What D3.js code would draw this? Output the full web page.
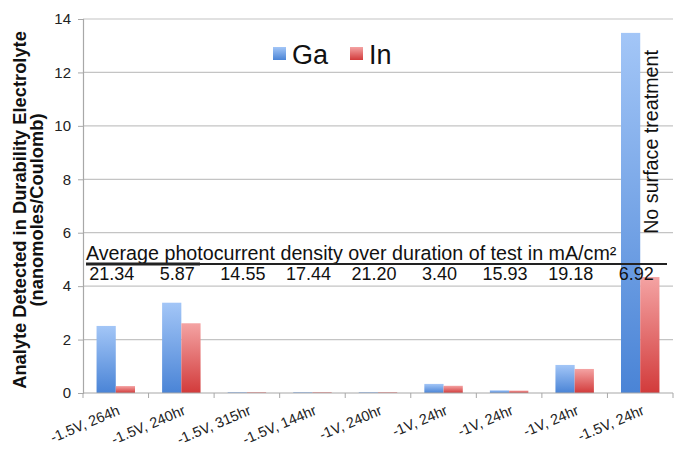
<!DOCTYPE html>
<html><head><meta charset="utf-8">
<script src="https://cdn.jsdelivr.net/npm/d3@7"></script>
<style>body{margin:0;background:#fff}svg{display:block;font-family:Arial,"Liberation Sans",sans-serif}</style>
</head><body><svg id="c" width="675" height="456"></svg>
<script>
const categories = ["-1.5V, 264h","-1.5V, 240hr","-1.5V, 315hr","-1.5V, 144hr","-1V, 240hr","-1V, 24hr","-1V, 24hr","-1V, 24hr","-1.5V, 24hr"];
const seriesNames = ["Ga","In"];
const gaValues = [2.51, 3.38, 0.03, 0.03, 0.03, 0.34, 0.10, 1.05, 13.48];
const inValues = [0.26, 2.61, 0.03, 0.03, 0.03, 0.27, 0.09, 0.90, 4.34];
const photocurrent = ["21.34","5.87","14.55","17.44","21.20","3.40","15.93","19.18","6.92"];
const yTicks = [0,2,4,6,8,10,12,14];

const svg = d3.select("#c");
const m = {l:83, r:673, t:19, b:393};
const x0 = d3.scaleBand().domain(d3.range(categories.length)).range([m.l, m.r]).paddingInner(0).paddingOuter(0);
const x1 = d3.scaleBand().domain(seriesNames).range([0, x0.bandwidth()]).paddingOuter(0.705).paddingInner(0);
const y = d3.scaleLinear().domain([0,14]).range([m.b, m.t]);

const defs = svg.append("defs");
function grad(id, top, bot){
  const g = defs.append("linearGradient").attr("id",id).attr("x1",0).attr("y1",0).attr("x2",0).attr("y2",1);
  g.append("stop").attr("offset","0%").attr("stop-color",top);
  g.append("stop").attr("offset","100%").attr("stop-color",bot);
}
grad("gGa","#a3c6f7","#4a84d6");
grad("gIn","#f4a3a3","#d23b3b");
const fills = {Ga:"url(#gGa)", In:"url(#gIn)"};

// gridlines
svg.append("g").selectAll("line").data(yTicks.filter(d=>d>0)).join("line")
  .attr("x1",m.l).attr("x2",m.r).attr("y1",d=>y(d)).attr("y2",d=>y(d))
  .attr("stroke","#c4c4c4").attr("stroke-width",1.2);

// y axis
const ya = svg.append("g").attr("transform",`translate(${m.l},0)`)
  .call(d3.axisLeft(y).tickValues(yTicks).tickSize(5).tickPadding(7).tickFormat(d3.format("d")));
ya.select(".domain").attr("stroke","#a8a8a8").attr("stroke-width",1.2);
ya.selectAll(".tick line").attr("stroke","#a8a8a8");
ya.selectAll("text").attr("font-size",15).attr("fill","#222").attr("font-family","Arial,'Liberation Sans',sans-serif");

// bars
const rows = categories.map((c,i)=>({i, vals:[{k:"Ga",v:gaValues[i]},{k:"In",v:inValues[i]}]}));
svg.append("g").selectAll("g").data(rows).join("g")
  .attr("transform",d=>`translate(${x0(d.i)},0)`)
  .selectAll("rect").data(d=>d.vals).join("rect")
  .attr("x",d=>x1(d.k)).attr("width",x1.bandwidth())
  .attr("y",d=>y(d.v)).attr("height",d=>y(0)-y(d.v))
  .attr("fill",d=>fills[d.k]);

// x axis
const xa = svg.append("g").attr("transform",`translate(0,${m.b})`);
xa.append("line").attr("x1",m.l).attr("x2",m.r).attr("stroke","#a8a8a8").attr("stroke-width",1.2);
xa.selectAll("line.tk").data(d3.range(categories.length+1)).join("line").attr("class","tk")
  .attr("x1",i=>m.l+i*x0.bandwidth()).attr("x2",i=>m.l+i*x0.bandwidth()).attr("y1",0).attr("y2",5)
  .attr("stroke","#a8a8a8");
xa.selectAll("text").data(categories).join("text")
  .attr("transform",(d,i)=>`translate(${x0(i)+x0.bandwidth()/2+5},${21}) rotate(-23)`)
  .attr("text-anchor","end").attr("font-size",14.5).attr("fill","#222").text(d=>d);

// y title
const yt = svg.append("text").attr("transform","translate(26,210) rotate(-90)")
  .attr("text-anchor","middle").attr("font-size",18.3).attr("font-weight","bold").attr("fill","#111");
yt.append("tspan").attr("x",0).attr("dy",0).text("Analyte Detected in Durability Electrolyte");
yt.append("tspan").attr("x",0).attr("dy",17).text("(nanomoles/Coulomb)");

// legend
const lg = svg.append("g");
const lx = [273, 350];
seriesNames.forEach((s,i)=>{
  lg.append("rect").attr("x",lx[i]).attr("y",47).attr("width",13).attr("height",13).attr("fill",fills[s]);
  lg.append("text").attr("x",lx[i]+19).attr("y",64).attr("font-size",27).attr("fill","#111").text(s);
});

// annotation
svg.append("text").attr("x",86).attr("y",260).attr("font-size",19.7).attr("fill","#111")
  .text("Average photocurrent density over duration of test in mA/cm²");
svg.append("line").attr("x1",86).attr("x2",667).attr("y1",264).attr("y2",264).attr("stroke","#222").attr("stroke-width",1.8);
svg.append("line").attr("x1",86).attr("x2",200).attr("y1",264).attr("y2",264).attr("stroke","#222").attr("stroke-width",2.8);
svg.append("g").selectAll("text").data(photocurrent).join("text")
  .attr("x",(d,i)=>x0(i)+x0.bandwidth()/2-4).attr("y",280).attr("text-anchor","middle")
  .attr("font-size",18).attr("fill","#111").text(d=>d);

// No surface treatment
svg.append("text").attr("transform",`translate(${x0(8)+x0.bandwidth()/2+13},50) rotate(-90)`)
  .attr("text-anchor","end").attr("font-size",19.7).attr("fill","#111").attr("dominant-baseline","middle")
  .text("No surface treatment");
</script></body></html>
